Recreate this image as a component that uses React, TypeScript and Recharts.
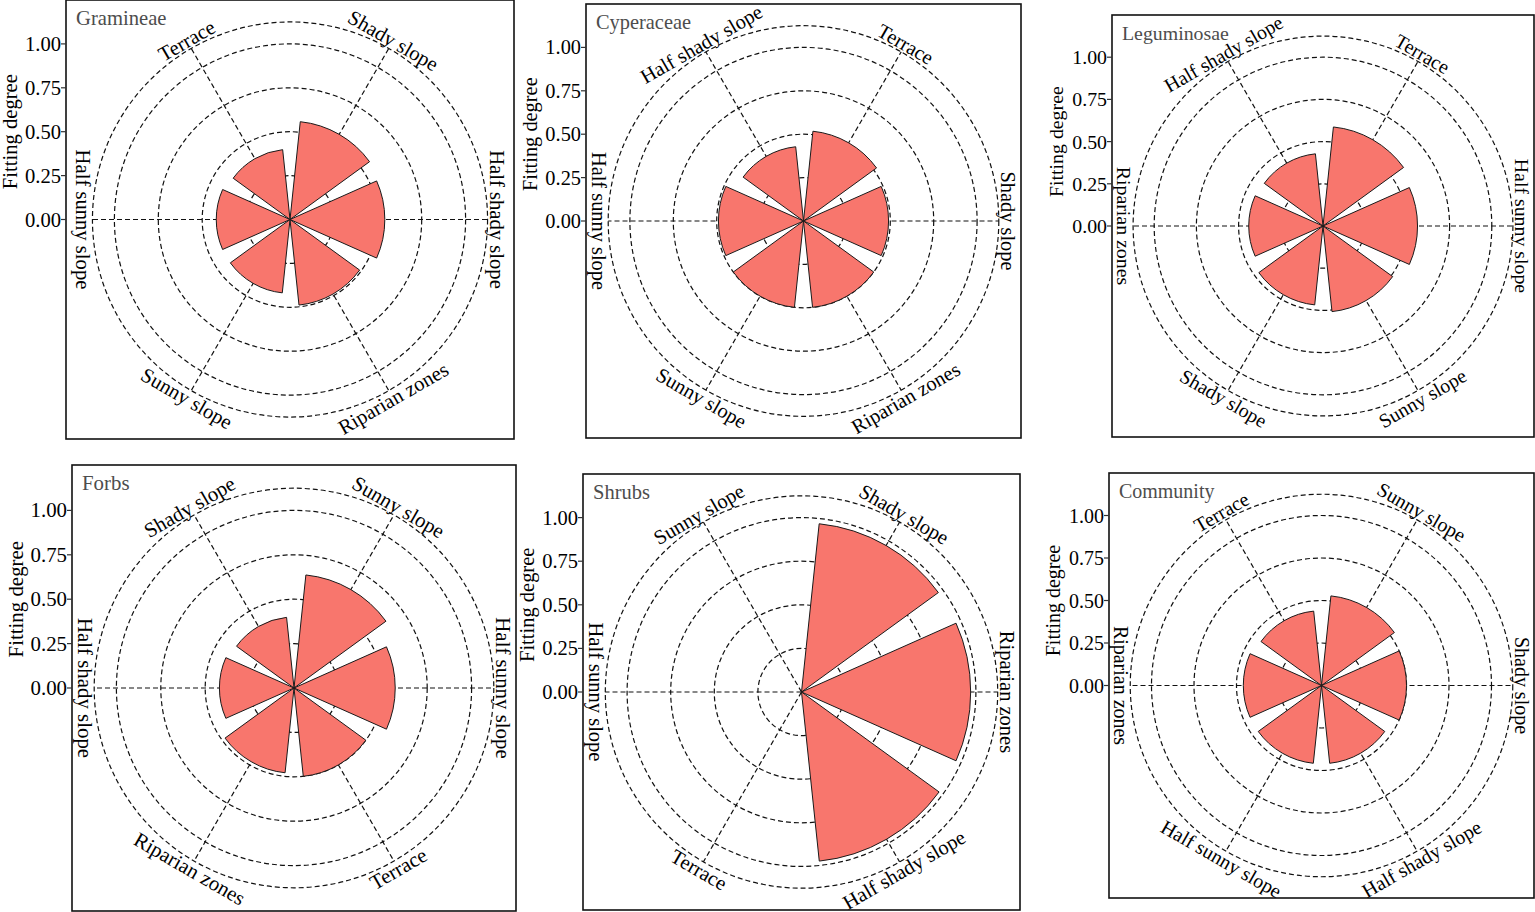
import React from "react";
import {
  RadialBarChart, RadialBar, PolarGrid, PolarAngleAxis, PolarRadiusAxis,
} from "recharts";

// ── data (one list per panel, clockwise from 12 o'clock) ──
const gramineaeSites = ["Shady slope", "Half shady slope", "Riparian zones", "Sunny slope", "Half sunny slope", "Terrace"];
const gramineaeFit = [0.56, 0.54, 0.49, 0.42, 0.42, 0.40];

const cyperaceaeSites = ["Terrace", "Shady slope", "Riparian zones", "Sunny slope", "Half sunny slope", "Half shady slope"];
const cyperaceaeFit = [0.52, 0.49, 0.50, 0.50, 0.49, 0.43];

const leguminosaeSites = ["Terrace", "Half sunny slope", "Sunny slope", "Shady slope", "Riparian zones", "Half shady slope"];
const leguminosaeFit = [0.59, 0.56, 0.51, 0.47, 0.44, 0.43];

const forbsSites = ["Sunny slope", "Half sunny slope", "Terrace", "Riparian zones", "Half shady slope", "Shady slope"];
const forbsFit = [0.64, 0.57, 0.50, 0.48, 0.42, 0.40];

const shrubsSites = ["Shady slope", "Riparian zones", "Half shady slope", "Terrace", "Half sunny slope", "Sunny slope"];
const shrubsFit = [0.97, 0.97, 0.975, 0, 0, 0];

const communitySites = ["Sunny slope", "Shady slope", "Half shady slope", "Half sunny slope", "Riparian zones", "Terrace"];
const communityFit = [0.53, 0.50, 0.46, 0.46, 0.46, 0.44];

const fitTicks = [0, 0.25, 0.5, 0.75, 1];
// ggplot's coord_polar draws one more ring at 0.45/0.4 of the top value
const OUTER_RING = 1.125;

const FONT = '"Liberation Serif", "Times New Roman", Times, serif';
const BAR_FILL = "#F8766D";
const M = 70; // room around each panel box for axis text

interface Panel {
  title: string;
  sites: string[];
  fit: number[];
  left: number; top: number; w: number; h: number;
}

const panels: Panel[] = [
  { title: "Gramineae",   sites: gramineaeSites,   fit: gramineaeFit,   left: 66,   top: 0,   w: 448, h: 439 },
  { title: "Cyperaceae",  sites: cyperaceaeSites,  fit: cyperaceaeFit,  left: 586,  top: 4,   w: 435, h: 434 },
  { title: "Leguminosae", sites: leguminosaeSites, fit: leguminosaeFit, left: 1112, top: 15,  w: 422, h: 422 },
  { title: "Forbs",       sites: forbsSites,       fit: forbsFit,       left: 72,   top: 465, w: 444, h: 446 },
  { title: "Shrubs",      sites: shrubsSites,      fit: shrubsFit,      left: 583,  top: 474, w: 437, h: 436 },
  { title: "Community",   sites: communitySites,   fit: communityFit,   left: 1109, top: 473, w: 425, h: 425 },
];

function PolarPanel({ p }: { p: Panel }) {
  const n = p.sites.length;
  const data = p.sites.map((site, i) => ({ pos: i + 1, site, fit: p.fit[i] }));
  const positions = data.map(d => d.pos);
  const size = Math.min(p.w, p.h);
  const fs = size * 0.047;
  const W = p.w + 2 * M;
  const H = p.h + 2 * M;
  const cx = M + p.w / 2;
  const cy = M + p.h / 2;

  // labels follow the angle, flipped so they never read upside down
  const angleTick = (props: any) => {
    const { x, y, payload } = props;
    let theta = (((90 - payload.coordinate) % 360) + 360) % 360;
    theta = Math.round(theta * 1000) / 1000;
    let rot = theta % 180;
    if (rot > 90) rot -= 180;
    return (
      <text x={x} y={y} transform={`rotate(${rot} ${x} ${y})`} textAnchor="middle"
            dominantBaseline="central" fontFamily={FONT} fontSize={fs} fill="#000">
        {p.sites[Math.round(payload.value) - 1]}
      </text>
    );
  };

  // y axis sits on the left edge of the panel box, like ggplot's
  const radiusTick = (props: any) => {
    const { y, payload } = props;
    if (payload.value > 1) return <g />;
    return (
      <g>
        <line x1={M - 5} x2={M} y1={y} y2={y} stroke="#333" strokeWidth={1.2} />
        <text x={M - 5} y={y} textAnchor="end" dominantBaseline="central"
              fontFamily={FONT} fontSize={fs} fill="#000">
          {Number(payload.value).toFixed(2)}
        </text>
      </g>
    );
  };

  return (
    <div style={{ position: "absolute", left: p.left - M, top: p.top - M, width: W, height: H }}>
      <svg width={W} height={H} style={{ position: "absolute", left: 0, top: 0 }}>
        <rect x={M} y={M} width={p.w} height={p.h} fill="#fff" stroke="#111" strokeWidth={1.6} />
        <text x={M + 10} y={M + 25} fontFamily={FONT} fontSize={fs} fill="#4d4d4d">{p.title}</text>
        <text x={M - 56} y={cy - 0.2 * size} transform={`rotate(-90 ${M - 56} ${cy - 0.2 * size})`}
              textAnchor="middle" dominantBaseline="central" fontFamily={FONT} fontSize={fs} fill="#000">
          Fitting degree
        </text>
      </svg>
      <div style={{ position: "absolute", left: 0, top: 0 }}>
        <RadialBarChart width={W} height={H} cx={cx} cy={cy} innerRadius={0} outerRadius={0.45 * size}
                        startAngle={90} endAngle={-270} data={data} layout="centric"
                        barCategoryGap="10%" margin={{ top: 0, right: 0, bottom: 0, left: 0 }}>
          <PolarGrid gridType="circle" stroke="#111" strokeWidth={1.2} strokeDasharray="5 3" />
          <PolarAngleAxis type="number" dataKey="pos" domain={[0.5, n + 0.5]} ticks={positions}
                          tick={angleTick} tickLine={false} axisLine={false} tickSize={9} />
          <PolarRadiusAxis type="number" domain={[0, OUTER_RING]} ticks={[...fitTicks, OUTER_RING]}
                           angle={90} tick={radiusTick} axisLine={false} tickLine={false} />
          <RadialBar dataKey="fit" fill={BAR_FILL} stroke="#1a1a1a" strokeWidth={1}
                     isAnimationActive={false} />
        </RadialBarChart>
      </div>
    </div>
  );
}

export default function App() {
  return (
    <div style={{ position: "absolute", left: 0, top: 0, width: 1535, height: 912, background: "#fff", overflow: "hidden" }}>
      {panels.map(p => <PolarPanel key={p.title} p={p} />)}
    </div>
  );
}
